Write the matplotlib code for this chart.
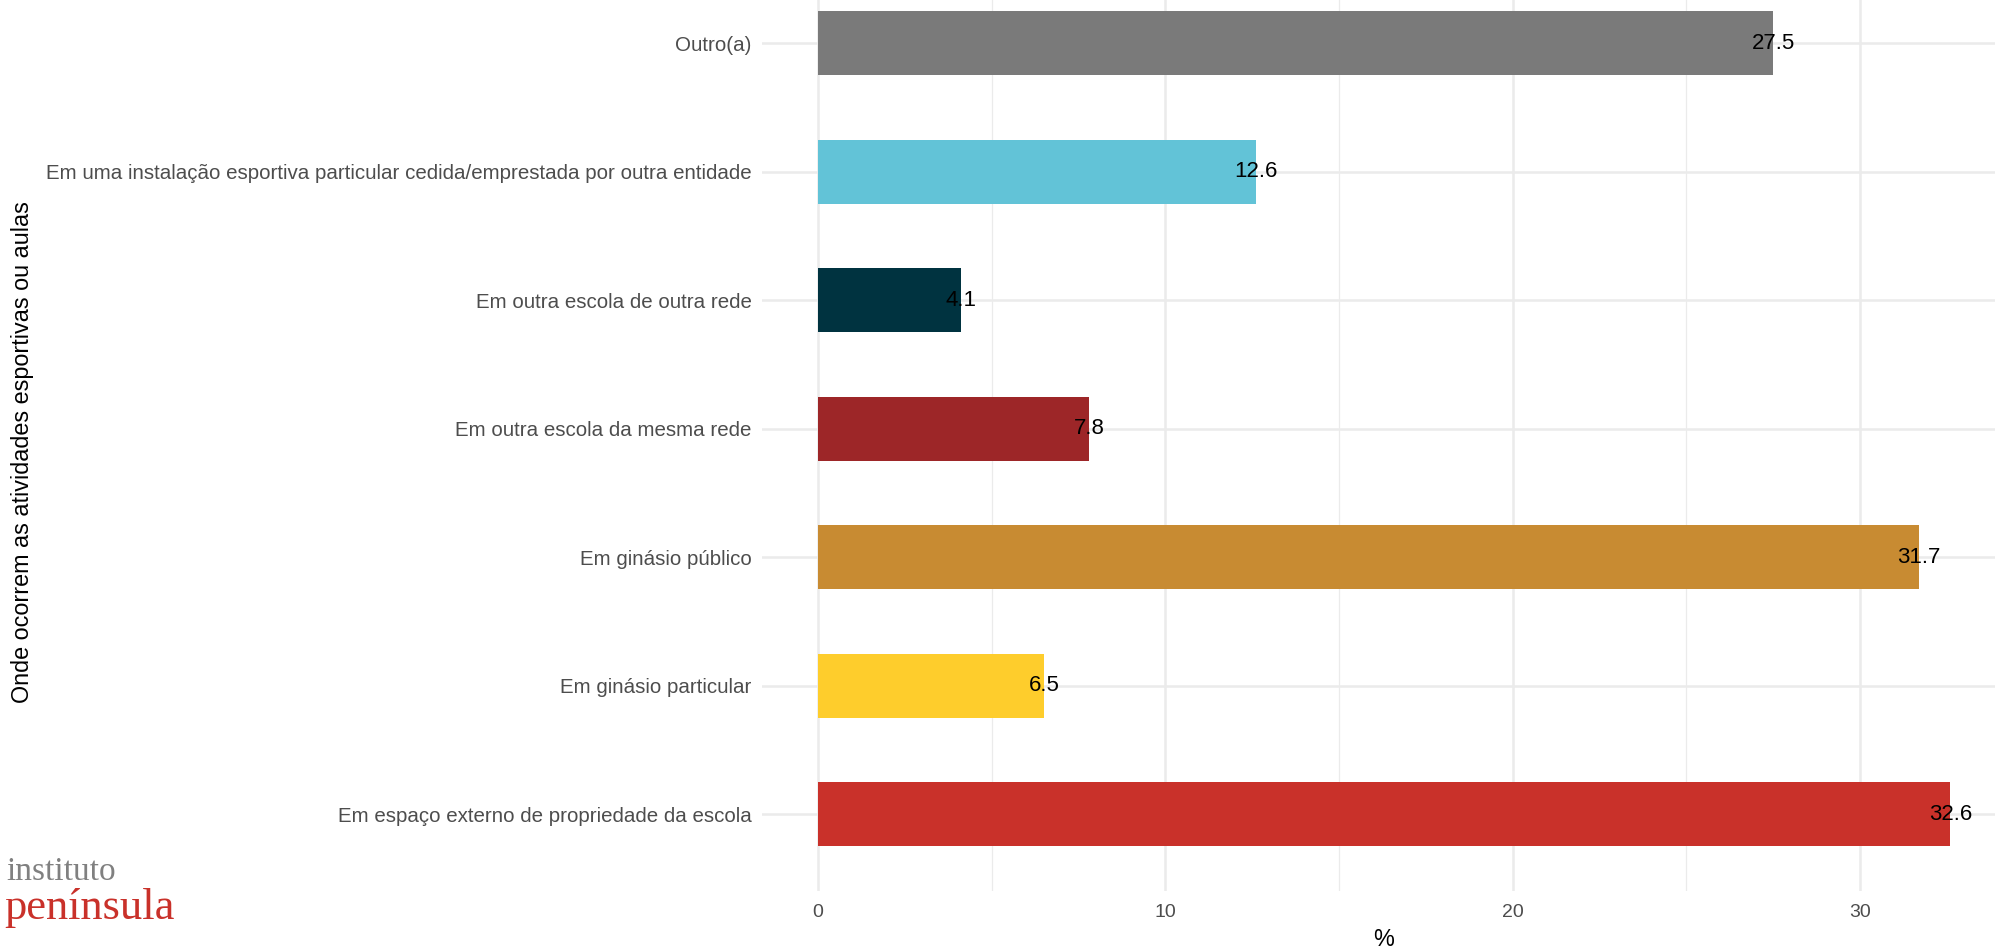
import matplotlib
matplotlib.use("Agg")
import matplotlib.pyplot as plt

categories = [
    "Em espaço externo de propriedade da escola",
    "Em ginásio particular",
    "Em ginásio público",
    "Em outra escola da mesma rede",
    "Em outra escola de outra rede",
    "Em uma instalação esportiva particular cedida/emprestada por outra entidade",
    "Outro(a)",
]
values = [32.6, 6.5, 31.7, 7.8, 4.1, 12.6, 27.5]
colors = ["#c9312a", "#fecd2c", "#c88b32", "#9d2628", "#003340", "#62c3d7", "#7a7a7a"]
x_ticks = [0, 10, 20, 30]
y_title = "Onde ocorrem as atividades esportivas ou aulas"
x_title = "%"

plt.rcParams["font.family"] = ["Liberation Sans", "DejaVu Sans"]

W, H = 1995, 947
fig = plt.figure(figsize=(W / 100, H / 100), dpi=100)
ax = fig.add_axes([761.5 / W, 1 - 891.4 / H, (2006.9 - 761.5) / W, (891.4 + 33.8) / H])

ypos = list(range(len(categories)))
ax.set_xlim(-1.63, 34.23)
ax.set_ylim(-0.6, 6.6)

# grid
for v in [5, 15, 25]:
    ax.axvline(v, color="#ebebeb", lw=0.9, zorder=0)
for v in x_ticks:
    ax.axvline(v, color="#ebebeb", lw=1.8, zorder=0)
for y in ypos:
    ax.axhline(y, color="#ebebeb", lw=1.8, zorder=0)

ax.barh(ypos, values, height=0.5, color=colors, zorder=2)
for y, v in zip(ypos, values):
    ax.text(v, y, f"{v:.1f}", ha="center", va="center", fontsize=16, color="black", zorder=3)

for s in ax.spines.values():
    s.set_visible(False)
ax.set_yticks(ypos)
ax.set_yticklabels(categories)
ax.set_xticks(x_ticks)
ax.set_xticklabels([str(t) for t in x_ticks])
ax.tick_params(axis="both", length=0, colors="#4d4d4d")
ax.tick_params(axis="y", pad=7, labelsize=14.8)
ax.tick_params(axis="x", pad=9, labelsize=14)

fig.text(23 / W, 1 - 452 / H, y_title, rotation=90, ha="center", va="center", fontsize=16.8, color="black")
fig.text(1384 / W, 1 - 939 / H, x_title, ha="center", va="center", fontsize=16.8, color="black")

# logo
fig.text(6 / W, 1 - 880 / H, "instituto", ha="left", va="baseline", fontsize=24,
         color="#808080", family=["Liberation Serif", "DejaVu Serif"])
fig.text(4 / W, 1 - 919 / H, "península", ha="left", va="baseline", fontsize=32,
         color="#c9312a", family=["Liberation Serif", "DejaVu Serif"])

fig.savefig("out.png", dpi=100)
